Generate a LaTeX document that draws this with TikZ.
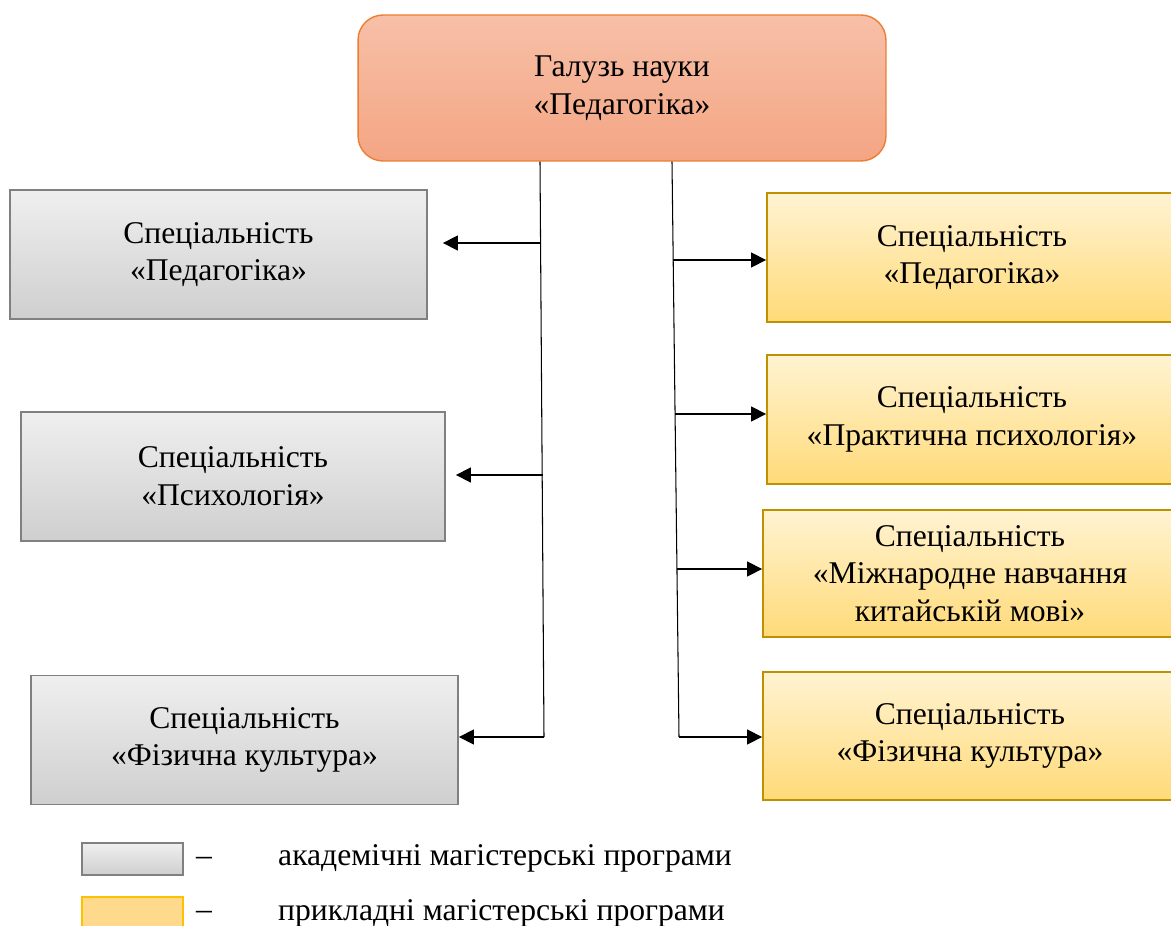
\documentclass[tikz,border=0pt]{standalone}
\usepackage{fontspec}
\setmainfont{Liberation Serif}
\usepackage{xcolor}
\usetikzlibrary{arrows.meta,positioning,calc}
\definecolor{fieldTop}{HTML}{F7C0A8}
\definecolor{fieldBot}{HTML}{F4A583}
\definecolor{fieldLine}{HTML}{ED7D31}
\definecolor{acadTop}{HTML}{EFEFEF}
\definecolor{acadBot}{HTML}{CFCFCF}
\definecolor{acadLine}{HTML}{808080}
\definecolor{prikTop}{HTML}{FFF3D2}
\definecolor{prikBot}{HTML}{FFDA78}
\definecolor{prikLine}{HTML}{BF9000}
\definecolor{legFill}{HTML}{FFD98C}
\definecolor{legLine}{HTML}{FFC000}

\begin{document}
\begin{tikzpicture}[x=0.02cm, y=-0.02cm,
    field/.style={draw=fieldLine, line width=0.8pt, rounded corners=0.5cm, top color=fieldTop, bottom color=fieldBot, minimum width=10.56cm, minimum height=2.92cm, align=center, font=\fontsize{18}{21.5}\selectfont},
    acad/.style={draw=acadLine, line width=1.1pt, top color=acadTop, bottom color=acadBot, minimum height=2.58cm, align=center, font=\fontsize{18}{21.5}\selectfont},
    prik/.style={draw=prikLine, line width=1.1pt, top color=prikTop, bottom color=prikBot, minimum height=2.58cm, align=center, font=\fontsize{18}{21.5}\selectfont},
    arr/.style={-{Triangle[length=0.3cm,width=0.3cm]}, line width=0.9pt},
    trunk/.style={line width=0.6pt},
    legtext/.style={anchor=west, font=\fontsize{18}{21.5}\selectfont}
]
\useasboundingbox (0,0) rectangle (1171,926);

% Галузь науки
\node[field] (top) at (622,88) {Галузь науки\\«Педагогіка»};

% академічні спеціальності
\node[acad, minimum width=8.34cm] (l1) at (218.5,254.5) {Спеціальність\\«Педагогіка»};
\node[acad, minimum width=8.48cm] (l2) at (233,476.5) {Спеціальність\\«Психологія»};
\node[acad, minimum width=8.54cm] (l3) at (244.5,740) {Спеціальність\\«Фізична культура»};

% прикладні спеціальності
\node[prik, minimum width=8.2cm] (r1) at (972,257.5) {Спеціальність\\«Педагогіка»};
\node[prik, minimum width=8.2cm] (r2) at (972,419.5) {Спеціальність\\«Практична психологія»};
\node[prik, minimum width=8.28cm, minimum height=2.54cm] (r3) at (970,573.5) {Спеціальність\\«Міжнародне навчання\\китайській мові»};
\node[prik, minimum width=8.28cm, minimum height=2.56cm] (r4) at (970,736) {Спеціальність\\«Фізична культура»};

% стовбури
\coordinate (lt0) at (top.south -| 540,0);
\coordinate (rt0) at (top.south -| 672,0);
\coordinate (la1) at (541,243);
\coordinate (la2) at (542.5,475);
\coordinate (la3) at (544,737);
\coordinate (ra1) at (673,260);
\coordinate (ra2) at (675,414);
\coordinate (ra3) at (677,569);
\coordinate (ra4) at (679,737);
\draw[trunk] (lt0) -- (la3);
\draw[trunk] (rt0) -- (ra4);

% стрілки
\draw[arr, shorten >=0.3cm] (la1) -- (la1 -| l1.east);
\draw[arr, shorten >=0.2cm] (la2) -- (la2 -| l2.east);
\draw[arr] (la3) -- (la3 -| l3.east);
\foreach \i in {1,2,3,4} {
    \draw[arr] (ra\i) -- (ra\i -| r\i.west);
}

% легенда
\node[draw=acadLine, line width=1.1pt, top color=acadTop, bottom color=acadBot, minimum width=2.02cm, minimum height=0.64cm] (g1) at (132.5,859) {};
\node[legtext] (d1) at (190,861) {--};
\node[legtext] (t1) at (272,858) {академічні магістерські програми};
\node[draw=legLine, line width=0.8pt, fill=legFill, minimum width=2.02cm, minimum height=0.64cm] (g2) at (132.5,913) {};
\node[legtext] (d2) at (190,915) {--};
\node[legtext] (t2) at (272,913) {прикладні магістерські програми};
\end{tikzpicture}
\end{document}
